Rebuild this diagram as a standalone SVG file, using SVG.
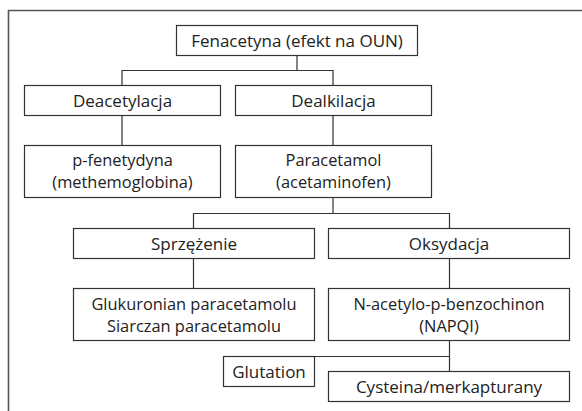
<svg xmlns="http://www.w3.org/2000/svg" width="582" height="411" viewBox="0 0 582 411">
<style>
.box{fill:#fff;stroke:#333;stroke-width:1.2}
.t{font-family:"Open Sans","Noto Sans","Liberation Sans",sans-serif;font-size:17px;fill:#222;text-anchor:middle}
.t2{font-size:16.4px}
.c{fill:none;stroke:#333;stroke-width:1.2}
.frame{fill:none;stroke:#555;stroke-width:1.6}
</style>
<rect width="582" height="411" fill="#fff"/>
<path class="frame" d="M8.5,411 V10.5 H582"/>
<g id="connectors">
<path class="c" d="M297,55 V70.5 M122,85 V70.5 H333 V85"/>
<path class="c" d="M122,115 V145"/>
<path class="c" d="M333,115 V145"/>
<path class="c" d="M333,198 V213.5 M193.5,228 V213.5 H449.5 V228"/>
<path class="c" d="M193.5,258 V288"/>
<path class="c" d="M449.5,258 V288"/>
<path class="c" d="M449.5,341 V371 M314,356.5 H449.5"/>
</g>
<g id="n-fenacetyna"><rect class="box" x="176.5" y="25.5" width="241" height="30"/><text class="t" x="297" y="46.5">Fenacetyna (efekt na OUN)</text></g>
<g id="n-deacetylacja"><rect class="box" x="24.5" y="85.5" width="196" height="30"/><text class="t" x="122.5" y="106.5">Deacetylacja</text></g>
<g id="n-dealkilacja"><rect class="box" x="235.5" y="85.5" width="196" height="30"/><text class="t" x="333.5" y="106.5">Dealkilacja</text></g>
<g id="n-fenetydyna"><rect class="box" x="24.5" y="145.5" width="196" height="52"/><text class="t t2" x="122.5" y="166">p-fenetydyna</text><text class="t t2" x="122.5" y="188.3">(methemoglobina)</text></g>
<g id="n-paracetamol"><rect class="box" x="235.5" y="145.5" width="196" height="52"/><text class="t t2" x="333.5" y="166">Paracetamol</text><text class="t t2" x="333.5" y="188.3">(acetaminofen)</text></g>
<g id="n-sprzezenie"><rect class="box" x="73.5" y="228.5" width="241" height="30"/><text class="t" x="194" y="249.5">Sprzężenie</text></g>
<g id="n-oksydacja"><rect class="box" x="328.5" y="228.5" width="241" height="30"/><text class="t" x="449" y="249.5">Oksydacja</text></g>
<g id="n-glukuronian"><rect class="box" x="73.5" y="288.5" width="241" height="52"/><text class="t t2" x="194" y="309.5">Glukuronian paracetamolu</text><text class="t t2" x="194" y="331.8">Siarczan paracetamolu</text></g>
<g id="n-napqi"><rect class="box" x="328.5" y="288.5" width="241" height="52"/><text class="t t2" x="449" y="309.5">N-acetylo-p-benzochinon</text><text class="t t2" x="449" y="331.8">(NAPQI)</text></g>
<g id="n-glutation"><rect class="box" x="223.5" y="356.5" width="91" height="30"/><text class="t" x="269" y="377.5">Glutation</text></g>
<g id="n-cysteina"><rect class="box" x="328.5" y="371.5" width="241" height="30"/><text class="t" x="449" y="392.5">Cysteina/merkapturany</text></g>
</svg>
